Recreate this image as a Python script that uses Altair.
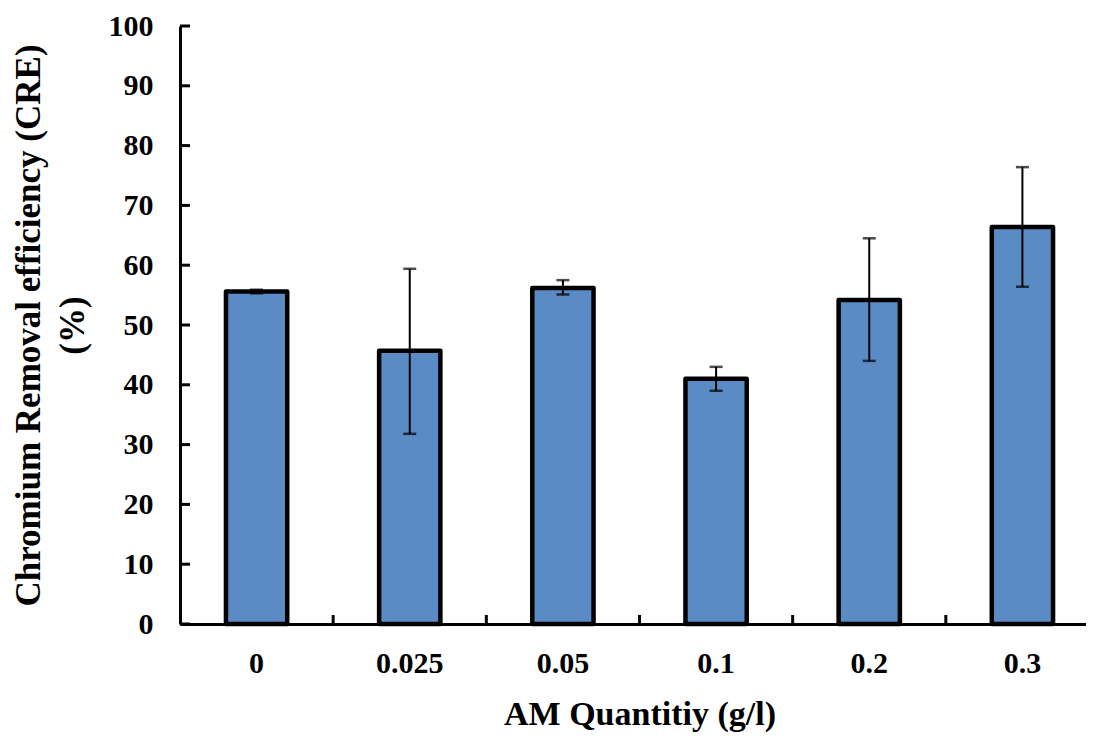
import altair as alt
import pandas as pd

qty = ["0", "0.025", "0.05", "0.1", "0.2", "0.3"]
cre = [55.6, 45.7, 56.2, 41.0, 54.2, 66.4]
err_low = [55.3, 31.8, 55.1, 39.0, 44.0, 56.4]
err_high = [55.9, 59.4, 57.5, 43.0, 64.5, 76.4]
y_ticks = [0, 10, 20, 30, 40, 50, 60, 70, 80, 90, 100]
x_tick_cats = ["0.025", "0.05", "0.1", "0.2", "0.3"]

df = pd.DataFrame({"qty": qty, "cre": cre, "lo": err_low, "hi": err_high})
ydf = pd.DataFrame({"v": y_ticks})
xdf = pd.DataFrame({"qty": x_tick_cats})

FONT = "Liberation Serif"
W = 906
RANGE_W = 919
H = 598

xscale = alt.Scale(domain=qty, range=[0, RANGE_W], paddingInner=0.6, paddingOuter=0.3)
yscale = alt.Scale(domain=[0, 100], nice=False)

xaxis = alt.Axis(
    title="AM Quantitiy (g/l)", labelAngle=0, ticks=False, tickSize=0,
    labelFont=FONT, labelFontSize=30, labelFontWeight="bold", labelColor="black",
    labelBaseline="alphabetic", labelPadding=48,
    titleFont=FONT, titleFontSize=34, titleFontWeight="bold", titleColor="black",
    titleX=RANGE_W / 2, titleY=100, titleBaseline="alphabetic", titleAlign="center",
    domainColor="black", domainWidth=3,
)
yaxis = alt.Axis(
    title=["Chromium Removal efficiency (CRE)", "(%)"], values=y_ticks, grid=False,
    ticks=False, tickSize=0,
    labelFont=FONT, labelFontSize=30, labelFontWeight="bold", labelColor="black",
    labelPadding=27,
    titleFont=FONT, titleFontSize=35, titleFontWeight="bold", titleColor="black",
    titleAngle=270, titleX=-141, titleY=H / 2, titleAlign="center",
    titleBaseline="alphabetic", titleLineHeight=44,
    domainColor="black", domainWidth=3,
)

bars = alt.Chart(df).mark_bar(
    fill="#5B8BC5", stroke="black", strokeWidth=4.5, strokeJoin="round"
).encode(
    x=alt.X("qty:N", scale=xscale, axis=xaxis, sort=qty),
    y=alt.Y("cre:Q", scale=yscale, axis=yaxis),
)

err = alt.Chart(df).mark_rule(color="black", strokeWidth=2).encode(
    x=alt.X("qty:N", scale=xscale, sort=qty),
    y=alt.Y("lo:Q", scale=yscale),
    y2="hi:Q",
)
cap_hi = alt.Chart(df).mark_tick(color="black", size=13, thickness=2.5).encode(
    x=alt.X("qty:N", scale=xscale, sort=qty),
    y=alt.Y("hi:Q", scale=yscale),
)
cap_lo = alt.Chart(df).mark_tick(color="black", size=13, thickness=2.5).encode(
    x=alt.X("qty:N", scale=xscale, sort=qty),
    y=alt.Y("lo:Q", scale=yscale),
)

ytick_rules = alt.Chart(ydf).mark_rule(color="black", strokeWidth=3).encode(
    y=alt.Y("v:Q", scale=yscale),
    x=alt.value(0),
    x2=alt.value(10),
)

xtick_rules = alt.Chart(xdf).mark_rule(
    color="black", strokeWidth=3, xOffset=-RANGE_W / 12
).encode(
    x=alt.X("qty:N", scale=xscale, sort=qty),
    y=alt.value(H),
    y2=alt.value(H - 9),
)

chart = alt.layer(bars, err, cap_hi, cap_lo, ytick_rules, xtick_rules).properties(
    width=W, height=H,
    autosize=alt.AutoSizeParams(type="none"),
    padding={"left": 172, "top": 18, "right": 0, "bottom": 110},
    background="white",
).configure_view(stroke=None)

chart.save("out.html", embed_options={"renderer": "svg", "actions": False})
